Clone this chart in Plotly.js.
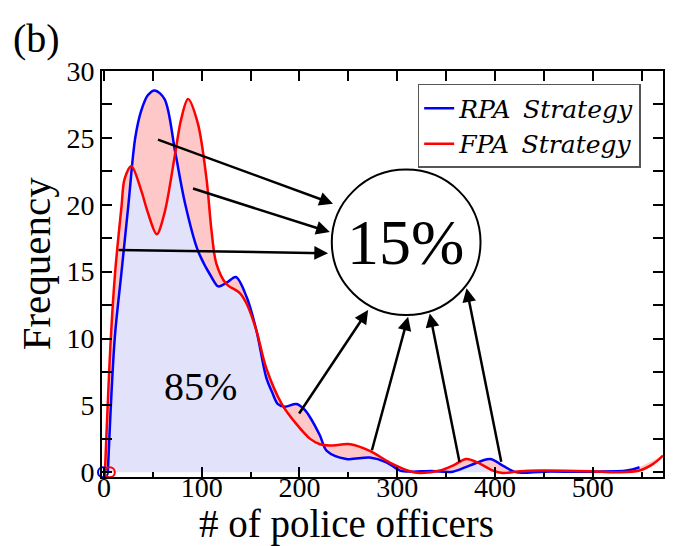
<!DOCTYPE html>
<html>
<head>
<meta charset="utf-8">
<script src="https://cdn.plot.ly/plotly-3.0.1.min.js"></script>
<style>html,body{margin:0;padding:0;background:#fff;}#chart{width:673px;height:546px;}</style>
</head>
<body>
<div id="chart"></div>
<script>
// ---- data ----
const rpaX = [4, 11, 18, 25, 32, 38, 45, 52, 62, 73, 83, 96, 110, 117, 126, 135, 146, 156, 166, 172, 178, 185, 197, 205, 211, 221, 228, 248, 272, 289, 303, 315, 335, 357, 374, 395, 408, 422, 450, 500, 535, 548];
const rpaY = [0, 10, 15, 20, 25, 27, 28.2, 28.55, 27.9, 23.9, 20.1, 16.6, 14.6, 13.9, 14.2, 14.6, 13.1, 10.6, 7.1, 6.0, 5.1, 4.9, 5.1, 4.7, 4.1, 2.75, 1.6, 1.0, 1.1, 0.75, 0.13, 0.05, 0.1, 0.05, 0.5, 1.0, 0.5, 0.0, 0.05, 0.05, 0.13, 0.38];

const fpaX = [1, 7, 11.5, 18, 21, 28, 38, 45, 54, 62, 73, 79, 86, 96, 105, 110, 115, 125, 139, 146, 156, 166, 182, 197, 211, 221, 231, 252, 272, 292, 313, 323, 344, 357, 371, 385, 398, 408, 426, 446, 497, 525, 548, 562, 572];
const fpaY = [0, 10, 15, 19.9, 21.9, 22.9, 21.1, 19.4, 17.8, 19.4, 23.9, 26.4, 27.9, 26.1, 21.9, 18.1, 15.6, 14.1, 13.4, 12.6, 10.6, 7.8, 5.1, 3.6, 2.5, 2.1, 2.0, 2.1, 1.6, 0.75, 0.08, -0.05, 0.13, 0.5, 1.0, 0.63, 0.13, -0.05, 0.08, 0.13, 0.08, 0.0, 0.13, 0.63, 1.25];

const rpaStartX = [-1], rpaStartY = [0];
const fpaStartX = [6], fpaStartY = [0];

const seriesNames = ['RPA\u2002Strategy', 'FPA\u2002Strategy'];
const xTickVals = [0, 100, 200, 300, 400, 500];
const yTickVals = [0, 5, 10, 15, 20, 25, 30];
const xTitle = '# of police officers';
const yTitle = 'Frequency';
const panelLabel = '(b)';
const overlapLabel = '85%';
const differenceLabel = '15%';

// ---- styles ----
const BLUE = '#0000ff', RED = '#ff0000';
const LAV = '#e2e2fa', PINK = '#ffc8c8';
const FONT = 'Liberation Serif, Times New Roman, serif';
const SM = 0.9;

const traces = [
  {x: rpaX, y: rpaY, mode: 'lines', line: {width: 0, shape: 'spline', smoothing: SM}, fill: 'tozeroy', fillcolor: LAV, showlegend: false, hoverinfo: 'skip'},
  {x: fpaX, y: fpaY, mode: 'lines', line: {width: 0, shape: 'spline', smoothing: SM}, fill: 'tonexty', fillcolor: PINK, showlegend: false, hoverinfo: 'skip'},
  {x: rpaX, y: rpaY, mode: 'lines', name: seriesNames[0], line: {color: BLUE, width: 2.5, shape: 'spline', smoothing: SM}},
  {x: fpaX, y: fpaY, mode: 'lines', name: seriesNames[1], line: {color: RED, width: 2.5, shape: 'spline', smoothing: SM}},
  {x: rpaStartX, y: rpaStartY, mode: 'markers', cliponaxis: false, marker: {symbol: 'circle-open', size: 10, color: BLUE, line: {width: 2}}, showlegend: false},
  {x: fpaStartX, y: fpaStartY, mode: 'markers', cliponaxis: false, marker: {symbol: 'circle-open', size: 10, color: RED, line: {width: 2}}, showlegend: false},
  {x: [0], y: [0], xaxis: 'x2', mode: 'markers', marker: {size: 0, opacity: 0}, showlegend: false, hoverinfo: 'skip'}
];

// arrows: head (data coords), tail offset in px
const arrows = [
  {x: 234.4, y: 20.08, ax: -176.6, ay: -64.7},
  {x: 231.1, y: 17.96, ax: -138.3, ay: -44},
  {x: 229.3, y: 16.38, ax: -211, ay: -3.3},
  {x: 270.3, y: 12.13, ax: -70, ay: 105},
  {x: 311.2, y: 11.63, ax: -36.6, ay: 135},
  {x: 333.4, y: 11.88, ax: 30, ay: 150},
  {x: 371.0, y: 13.76, ax: 35, ay: 175}
];

const annotations = arrows.map(a => ({
  x: a.x, y: a.y, xref: 'x', yref: 'y', ax: a.ax, ay: a.ay, text: '',
  showarrow: true, arrowhead: 2, arrowsize: 1.1, arrowwidth: 2.5, arrowcolor: '#000', standoff: 0
}));

annotations.push(
  {x: 308.9, y: 17.16, xref: 'x', yref: 'y', text: differenceLabel, showarrow: false, font: {family: FONT, size: 64, color: '#000'}},
  {x: 99, y: 6.43, xref: 'x', yref: 'y', text: overlapLabel, showarrow: false, font: {family: FONT, size: 40, color: '#000'}},
  {x: 0.436, y: -0.0585, xref: 'paper', yref: 'paper', xanchor: 'center', yanchor: 'top', borderpad: 0, text: xTitle, showarrow: false, font: {family: FONT, size: 39, color: '#000'}},
  {x: -0.1182, y: 0.5255, xref: 'paper', yref: 'paper', xanchor: 'center', yanchor: 'middle', textangle: -90, text: yTitle, showarrow: false, font: {family: FONT, size: 41, color: '#000'}},
  {x: -0.116, y: 1.081, xref: 'paper', yref: 'paper', xanchor: 'center', yanchor: 'middle', text: panelLabel, showarrow: false, font: {family: FONT, size: 40, color: '#000'}}
);

const layout = {
  width: 673, height: 546,
  margin: {l: 102, r: 10, t: 71, b: 69},
  paper_bgcolor: '#fff', plot_bgcolor: '#fff',
  font: {family: FONT, color: '#000', size: 28},
  showlegend: true,
  legend: {x: 0.5627, y: 0.968, xanchor: 'left', yanchor: 'top', traceorder: 'normal', bgcolor: '#fff', bordercolor: '#555', borderwidth: 1.5,
           font: {family: 'DejaVu Serif, serif', size: 25, style: 'italic', color: '#000'}},
  xaxis: {range: [-2, 572], tickvals: xTickVals, ticks: 'inside', ticklen: 10, tickwidth: 2, tickcolor: '#000',
          minor: {dtick: 50, tick0: 0, ticks: 'inside', ticklen: 5, tickwidth: 2, tickcolor: '#000', showgrid: false},
          showline: true, linewidth: 2, linecolor: '#000', mirror: true, showgrid: false, zeroline: false,
          ticklabelstandoff: -16,
          tickfont: {family: FONT, size: 28, color: '#000'}},
  xaxis2: {overlaying: 'x', side: 'top', range: [-2, 572], dtick: 50, tick0: 0, ticks: 'inside', ticklen: 10, tickwidth: 2, tickcolor: '#000',
           showticklabels: false, showline: false, showgrid: false, zeroline: false},
  yaxis: {range: [-0.35, 30], tickvals: yTickVals, ticks: 'inside', ticklen: 10, tickwidth: 2, tickcolor: '#000',
          minor: {dtick: 2.5, tick0: 0, ticks: 'inside', ticklen: 5, tickwidth: 2, tickcolor: '#000', showgrid: false},
          showline: true, linewidth: 2, linecolor: '#000', mirror: 'allticks', showgrid: false, zeroline: false,
          tickfont: {family: FONT, size: 28, color: '#000'}},
  shapes: [
    {type: 'circle', xref: 'x', yref: 'y', x0: 233.1, x1: 385.3, y0: 11.76, y1: 22.63, line: {color: '#000', width: 2}, fillcolor: 'rgba(0,0,0,0)'}
  ],
  annotations: annotations
};

Plotly.newPlot('chart', traces, layout, {displayModeBar: false, staticPlot: true});
</script>
</body>
</html>
